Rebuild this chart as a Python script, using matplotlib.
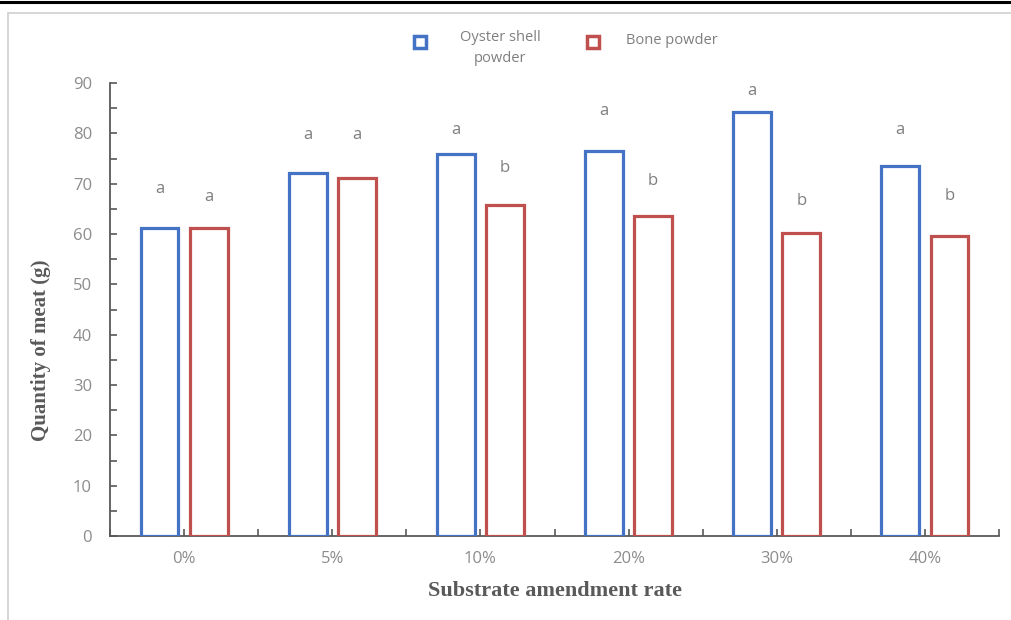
import matplotlib
matplotlib.use("Agg")
import matplotlib.pyplot as plt
from matplotlib.lines import Line2D
from matplotlib.patches import Rectangle
import numpy as np

categories = ["0%", "5%", "10%", "20%", "30%", "40%"]
oyster = [61.2, 72.1, 75.9, 76.5, 84.2, 73.5]
bone = [61.2, 71.1, 65.8, 63.5, 60.2, 59.6]
oyster_letters = ["a", "a", "a", "a", "a", "a"]
bone_letters = ["a", "a", "b", "b", "b", "b"]
oyster_letter_y = [68.9, 79.7, 80.7, 84.4, 88.4, 80.7]
bone_letter_y = [67.4, 79.7, 73.1, 70.5, 66.6, 67.6]

BLUE = "#4472C4"
RED = "#C0504D"
TICK_C = "#8c8c8c"
AX_C = "#595959"

fig = plt.figure(figsize=(10.11, 6.2), dpi=100)
ax = fig.add_axes([110/1011, 84/620, 889/1011, 453/620])

x = np.arange(len(categories))
w = 0.255
off = 0.166
ax.bar(x - off, oyster, w, facecolor="white", edgecolor=BLUE, linewidth=2.3, zorder=3)
ax.bar(x + off, bone, w, facecolor="white", edgecolor=RED, linewidth=2.3, zorder=3)

for i in range(len(categories)):
    ax.text(x[i] - off, oyster_letter_y[i], oyster_letters[i], ha="center", va="center",
            fontsize=12, color="#7f7f7f", family="Open Sans")
    ax.text(x[i] + off, bone_letter_y[i], bone_letters[i], ha="center", va="center",
            fontsize=12, color="#7f7f7f", family="Open Sans")

ax.set_xlim(-0.5, len(categories) - 0.5)
ax.set_ylim(0, 90)
ax.set_yticks(np.arange(0, 91, 10))
ax.set_yticks(np.arange(0, 91, 5), minor=True)
ax.set_xticks(x)
ax.set_xticklabels(categories)
ax.set_xticks(np.arange(-0.5, len(categories), 1.0), minor=True)

for s in ["top", "right"]:
    ax.spines[s].set_visible(False)
for s in ["left", "bottom"]:
    ax.spines[s].set_color(AX_C)
    ax.spines[s].set_linewidth(1.3)

ax.tick_params(axis="both", which="both", direction="in", color=AX_C, width=1.2,
               labelcolor=TICK_C, labelsize=12)
ax.tick_params(axis="both", which="major", length=5)
ax.tick_params(axis="both", which="minor", length=5)
ax.tick_params(axis="y", pad=13)
ax.tick_params(axis="x", pad=11)
for lab in ax.get_xticklabels() + ax.get_yticklabels():
    lab.set_family("Open Sans")

ax.set_ylabel("Quantity of meat (g)", family="Liberation Serif", fontweight="bold",
              fontsize=15, color="#595959")
ax.yaxis.set_label_coords(-0.066, 0.41)
ax.set_xlabel("Substrate amendment rate", family="Liberation Serif", fontweight="bold",
              fontsize=16, color="#595959", labelpad=10)

# legend (manual)
fig.add_artist(Line2D([420/1011], [1 - 42/620], marker="s", markersize=9, markerfacecolor="white",
                      markeredgecolor=BLUE, markeredgewidth=2.5, linestyle="none",
                      transform=fig.transFigure))
fig.add_artist(Line2D([593/1011], [1 - 42/620], marker="s", markersize=9, markerfacecolor="white",
                      markeredgecolor=RED, markeredgewidth=2.5, linestyle="none",
                      transform=fig.transFigure))
fig.text(500/1011, 1 - 48/620, "Oyster shell\npowder", ha="center", va="center", fontsize=10.5,
         color="#7f7f7f", family="Open Sans", linespacing=1.5)
fig.text(626/1011, 1 - 41/620, "Bone powder", ha="left", va="center", fontsize=10.5,
         color="#7f7f7f", family="Open Sans")

# frame and top line
fig.add_artist(Rectangle((8/1011, -0.1), 1.2, 1 - 13/620 + 0.1, transform=fig.transFigure,
                         fill=False, edgecolor="#d0d0d0", linewidth=1.2))
fig.add_artist(Line2D([0, 1], [1 - 2/620, 1 - 2/620], color="black", linewidth=2.2,
                      transform=fig.transFigure))

fig.savefig("out.png", dpi=100)
